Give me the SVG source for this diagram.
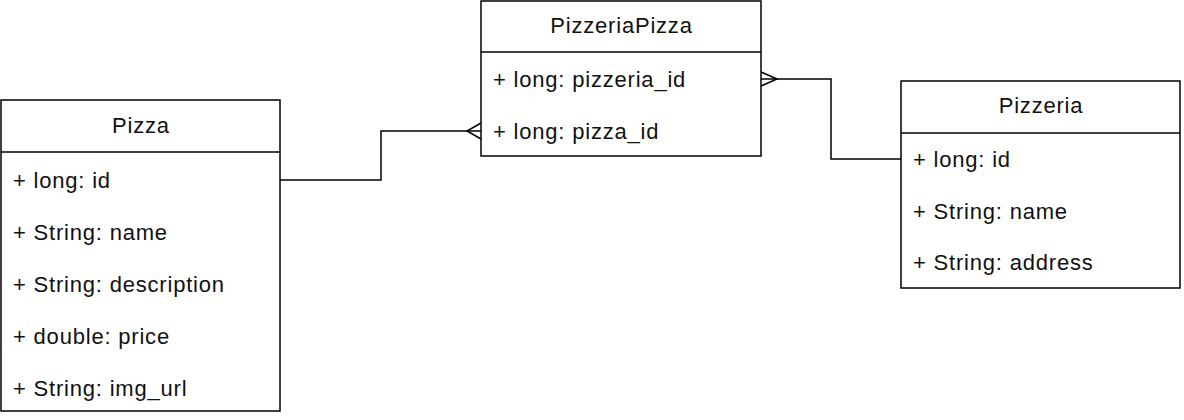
<svg xmlns="http://www.w3.org/2000/svg" width="1184" height="420" viewBox="0 0 1184 420">
<style>
.box{fill:#fff;stroke:#000;stroke-width:1.5}
.sep{stroke:#000;stroke-width:1.5}
.t{font-family:"Liberation Sans",Arial,sans-serif;font-size:22px;letter-spacing:0.8px;fill:#111}
.h{text-anchor:middle}
.c{fill:none;stroke:#000;stroke-width:1.5}
</style>
<rect width="1184" height="420" fill="#fff"/>
<g id="connectors">
<path class="c" d="M280,180 H381 V131 H481"/>
<path class="c" d="M481,123 L467,131 L481,139"/>
<path class="c" d="M901,159 H831 V79 H761"/>
<path class="c" d="M761,72 L777,79 L761,86"/>
</g>
<g id="pizza">
<rect class="box" x="1" y="100" width="279" height="311"/>
<line class="sep" x1="1" y1="152" x2="280" y2="152"/>
<text class="t h" x="141" y="133">Pizza</text>
<text class="t" x="13" y="188">+ long: id</text>
<text class="t" x="13" y="240">+ String: name</text>
<text class="t" x="13" y="292">+ String: description</text>
<text class="t" x="13" y="344">+ double: price</text>
<text class="t" x="13" y="396">+ String: img_url</text>
</g>
<g id="pizzeriapizza">
<rect class="box" x="481" y="1" width="280" height="155"/>
<line class="sep" x1="481" y1="52" x2="761" y2="52"/>
<text class="t h" x="621.5" y="33">PizzeriaPizza</text>
<text class="t" x="493" y="87">+ long: pizzeria_id</text>
<text class="t" x="493" y="139">+ long: pizza_id</text>
</g>
<g id="pizzeria">
<rect class="box" x="901" y="81" width="279" height="207"/>
<line class="sep" x1="901" y1="133" x2="1180" y2="133"/>
<text class="t h" x="1041" y="113">Pizzeria</text>
<text class="t" x="913" y="167">+ long: id</text>
<text class="t" x="913" y="219">+ String: name</text>
<text class="t" x="913" y="270">+ String: address</text>
</g>
</svg>
